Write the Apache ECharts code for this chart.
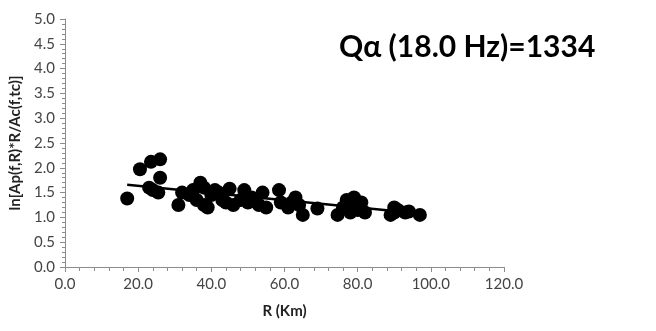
<!DOCTYPE html>
<html>
<head>
	<meta charset="utf-8">
	<title>Q alpha 18.0 Hz</title>
	<script src="https://cdn.jsdelivr.net/npm/echarts@6/dist/echarts.min.js"></script>
	<style type="text/css">
		html, body { margin: 0; padding: 0; background: #fff; }
		#chart { width: 656px; height: 331px; }
	</style>
</head>
<body>
<div id="chart"></div>
<script type="text/javascript">

	// 观测点 R (Km)
	var distR = [17, 20.5, 23.5, 26, 24, 26, 25.5, 23, 31, 32, 34, 35, 36, 37, 38, 38, 39, 40, 41, 42, 43, 44, 45, 46,
		48, 49, 50, 51, 52, 53, 54, 55, 58.5, 59, 61, 62, 63, 64, 65, 69, 74.5, 76, 77, 78, 79, 80, 80, 81, 82,
		89, 90, 90, 91, 93, 94, 97];
	// ln[Ap(f,R)*R/Ac(f,tc)]
	var lnRatio = [1.38, 1.97, 2.12, 2.17, 1.55, 1.80, 1.50, 1.60, 1.25, 1.50, 1.45, 1.55, 1.35, 1.70, 1.60, 1.25, 1.20, 1.45, 1.55, 1.50, 1.35, 1.30, 1.58, 1.25,
		1.35, 1.55, 1.30, 1.40, 1.35, 1.25, 1.50, 1.20, 1.55, 1.30, 1.20, 1.30, 1.40, 1.25, 1.05, 1.18, 1.05, 1.20, 1.35, 1.10, 1.40, 1.25, 1.15, 1.30, 1.10,
		1.05, 1.20, 1.10, 1.15, 1.10, 1.12, 1.05];
	// 拟合直线端点
	var trendR = [17, 97];
	var trendY = [1.66, 1.08];

	var xTicks = [0, 20, 40, 60, 80, 100, 120];
	var yTicks = [0, 0.5, 1, 1.5, 2, 2.5, 3, 3.5, 4, 4.5, 5];

	var pts = distR.map(function(r, i) { return [r, lnRatio[i]]; });
	var line = trendR.map(function(r, i) { return [r, trendY[i]]; });

	var axisGray = '#8c8c8c';
	var font = 'Lato';

	var myChart = echarts.init(document.getElementById('chart'));
	var option = {
		animation: false,
		title: {
			text: 'Q\u03b1 (18.0 Hz)=1334',
			left: 334,
			top: 27,
			textStyle: { fontFamily: font, fontSize: 30, fontWeight: 'bold', color: '#000' }
		},
		grid: { left: 60, right: 152, top: 19, bottom: 64 },
		xAxis: {
			type: 'value',
			min: xTicks[0],
			max: xTicks[xTicks.length - 1],
			interval: 20,
			name: 'R (Km)',
			nameLocation: 'middle',
			nameGap: 37,
			nameTextStyle: { fontFamily: font, fontSize: 15, fontWeight: 'bold', color: '#222' },
			axisLine: { lineStyle: { color: axisGray } },
			axisTick: { show: true, length: 5, lineStyle: { color: axisGray } },
			minorTick: { show: true, splitNumber: 5, length: 4, lineStyle: { color: axisGray } },
			splitLine: { show: false },
			axisLabel: {
				fontFamily: font, fontSize: 15, color: '#444', margin: 10,
				formatter: function(v) { return v.toFixed(1); }
			}
		},
		yAxis: {
			type: 'value',
			min: yTicks[0],
			max: yTicks[yTicks.length - 1],
			interval: 0.5,
			name: 'ln[Ap(f,R)*R/Ac(f,tc)]',
			nameLocation: 'middle',
			nameGap: 42,
			nameTextStyle: { fontFamily: font, fontSize: 15, fontWeight: 'bold', color: '#222' },
			axisLine: { show: true, lineStyle: { color: axisGray } },
			axisTick: { show: true, length: 5, lineStyle: { color: axisGray } },
			minorTick: { show: true, splitNumber: 5, length: 3, lineStyle: { color: axisGray } },
			splitLine: { show: false },
			axisLabel: {
				fontFamily: font, fontSize: 15, color: '#444', margin: 10,
				formatter: function(v) { return v.toFixed(1); }
			}
		},
		series: [{
			type: 'scatter',
			data: pts,
			symbolSize: 14,
			itemStyle: { color: '#000', opacity: 1 }
		}, {
			type: 'line',
			data: line,
			symbol: 'none',
			lineStyle: { color: '#000', width: 2.5 },
			z: 3
		}]
	};
	myChart.setOption(option);

</script>
</body>
</html>
